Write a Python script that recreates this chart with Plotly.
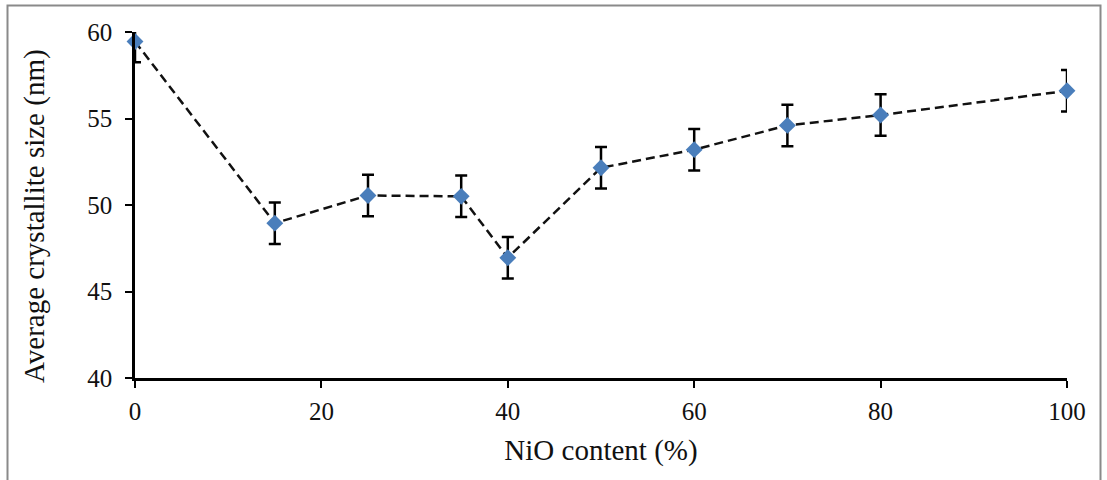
import plotly.graph_objects as go

nio_content = [0, 15, 25, 35, 40, 50, 60, 70, 80, 100]
crystallite_size = [59.45, 48.95, 50.55, 50.5, 46.95, 52.15, 53.2, 54.6, 55.2, 56.6]
size_error = [1.2, 1.2, 1.2, 1.2, 1.2, 1.2, 1.2, 1.2, 1.2, 1.2]

x_ticks = [0, 20, 40, 60, 80, 100]
y_ticks = [40, 45, 50, 55, 60]

W, H = 1107, 480
L, R, T, B = 135, 40, 32, 102

fig = go.Figure()

# error bars (clipped to plot area)
fig.add_trace(go.Scatter(
    x=nio_content, y=crystallite_size, mode="markers",
    marker=dict(size=1, color="rgba(0,0,0,0)"),
    error_y=dict(type="data", array=size_error, visible=True,
                 color="#000000", thickness=2.5, width=6),
    cliponaxis=True, showlegend=False, hoverinfo="skip"))

# dashed line with diamond markers
fig.add_trace(go.Scatter(
    x=nio_content, y=crystallite_size, mode="lines+markers",
    line=dict(color="#111111", width=2.5, dash="9px,5px"),
    marker=dict(symbol="diamond", size=13, color="#4a7ebb",
                line=dict(width=0)),
    cliponaxis=False, showlegend=False))

pw = W - L - R
ph = H - T - B

def px_x(v):
    return (v - L) / pw

def px_y(v):
    return (H - B - v) / ph

fig.update_layout(
    width=W, height=H,
    margin=dict(l=L, r=R, t=T, b=B, autoexpand=False),
    paper_bgcolor="white", plot_bgcolor="white",
    font=dict(family="Liberation Serif, Times New Roman, serif", color="#111111"),
    shapes=[dict(type="rect", xref="paper", yref="paper",
                 x0=px_x(7.5), x1=px_x(1100.5), y0=px_y(490), y1=px_y(5.5),
                 line=dict(color="#8a8a8a", width=2), fillcolor="rgba(0,0,0,0)",
                 layer="below")],
    annotations=[dict(text="Average crystallite size (nm)", textangle=-90,
                      xref="paper", yref="paper", x=px_x(35), y=px_y(216),
                      xanchor="center", yanchor="middle", showarrow=False,
                      font=dict(size=29))],
    xaxis=dict(range=[0, 100], tickvals=x_ticks, ticktext=[str(v) for v in x_ticks],
               showgrid=False, zeroline=False, showline=True, linecolor="#000000",
               linewidth=2.5, ticks="outside", ticklen=7, tickwidth=2,
               tickcolor="#000000", tickfont=dict(size=25),
               ticklabelstandoff=2,
               title=dict(text="NiO content (%)", font=dict(size=29), standoff=16)),
    yaxis=dict(range=[40, 60], tickvals=y_ticks, ticktext=[str(v) for v in y_ticks],
               showgrid=False, zeroline=False, showline=True, linecolor="#000000",
               linewidth=2.5, ticks="outside", ticklen=7, tickwidth=2,
               tickcolor="#000000", tickfont=dict(size=25),
               ticklabelstandoff=8),
)

fig.write_html("out.html")
